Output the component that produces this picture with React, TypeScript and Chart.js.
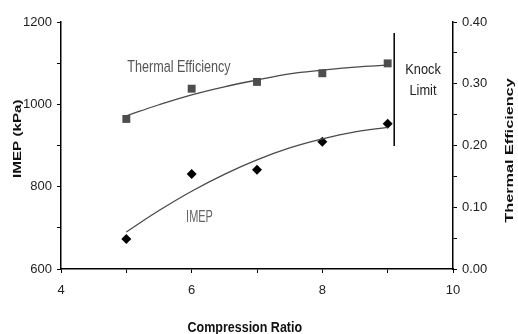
import React, { useEffect, useRef } from 'react';
import { Chart, registerables } from 'chart.js';

Chart.register(...registerables);

// ---- data ----
const compressionRatio = [5, 6, 7, 8, 9];
const imepValues = [673, 831, 841, 909, 953];
const thermalEfficiency = [0.243, 0.292, 0.303, 0.317, 0.333];
const trendX = [5, 5.5, 6, 6.5, 7, 7.5, 8, 8.5, 9];
const imepTrend = [690, 742, 789, 830, 865, 894, 916, 933, 944];
const thermalTrend = [0.248, 0.266, 0.282, 0.295, 0.306, 0.316, 0.322, 0.327, 0.33];
const knockLimitX = [9.1, 9.1];
const knockLimitY = [1173, 899];
const xTickLabels = [4, 6, 8, 10];
const leftTickLabels = [600, 800, 1000, 1200];
const rightTickLabels = [0, 0.1, 0.2, 0.3, 0.4];

const FAMILY = "'Liberation Sans', Arial, Helvetica, sans-serif";

function putText(
  ctx: CanvasRenderingContext2D,
  text: string,
  x: number,
  y: number,
  size: number,
  weight: string,
  color: string,
  sx: number,
  sy: number,
  rot = 0,
  align: CanvasTextAlign = 'center'
) {
  ctx.save();
  ctx.translate(x, y);
  if (rot) ctx.rotate(rot);
  ctx.scale(sx, sy);
  ctx.font = `${weight} ${size}px ${FAMILY}`;
  ctx.fillStyle = color;
  ctx.textAlign = align;
  ctx.textBaseline = 'alphabetic';
  ctx.fillText(text, 0, 0);
  ctx.restore();
}

const textPlugin = {
  id: 'textLabels',
  afterDraw(chart: any) {
    const ctx: CanvasRenderingContext2D = chart.ctx;
    const xs = chart.scales.x;
    const ys = chart.scales.y;
    // axis titles
    putText(ctx, 'IMEP (kPa)', 20.7, 138.7, 11.7, 'bold', '#111', 1.3, 1, -Math.PI / 2);
    putText(ctx, 'Thermal Efficiency', 513.3, 150.5, 11.6, 'bold', '#111', 1.4, 1, -Math.PI / 2);
    putText(ctx, 'Compression Ratio', 244.8, 331.5, 12.5, 'bold', '#111', 1, 1.2);
    // in-plot labels (anchored in data coordinates)
    putText(ctx, 'Thermal Efficiency', xs.getPixelForValue(5.805), ys.getPixelForValue(1077.8), 12.6, 'normal', '#555', 1, 1.29);
    putText(ctx, 'IMEP', xs.getPixelForValue(6.12), ys.getPixelForValue(714.9), 12.6, 'normal', '#666', 0.87, 1.29);
    putText(ctx, 'Knock', xs.getPixelForValue(9.541), ys.getPixelForValue(1073.7), 12.8, 'normal', '#222', 1, 1.2);
    putText(ctx, 'Limit', xs.getPixelForValue(9.541), ys.getPixelForValue(1022.7), 12.8, 'normal', '#222', 1, 1.2);
  },
};

export default function App() {
  const canvasRef = useRef<HTMLCanvasElement | null>(null);

  useEffect(() => {
    const canvas = canvasRef.current;
    if (!canvas) return;
    const tickFont = { family: FAMILY, size: 13 };
    const chart = new Chart(canvas, {
      type: 'line',
      data: {
        datasets: [
          {
            label: 'Thermal trend',
            data: trendX.map((x, i) => ({ x, y: thermalTrend[i] })),
            yAxisID: 'y1',
            borderColor: '#4a4a4a',
            borderWidth: 1.3,
            pointRadius: 0,
            tension: 0.4,
            fill: false,
          },
          {
            label: 'IMEP trend',
            data: trendX.map((x, i) => ({ x, y: imepTrend[i] })),
            yAxisID: 'y',
            borderColor: '#4a4a4a',
            borderWidth: 1.3,
            pointRadius: 0,
            tension: 0.4,
            fill: false,
          },
          {
            label: 'Thermal Efficiency',
            data: compressionRatio.map((x, i) => ({ x, y: thermalEfficiency[i] })),
            yAxisID: 'y1',
            showLine: false,
            pointStyle: 'rect',
            pointRadius: 5.6,
            pointBackgroundColor: '#4d4d4d',
            pointBorderColor: '#4d4d4d',
            pointBorderWidth: 0,
          },
          {
            label: 'IMEP',
            data: compressionRatio.map((x, i) => ({ x, y: imepValues[i] })),
            yAxisID: 'y',
            showLine: false,
            pointStyle: 'rectRot',
            pointRadius: 5,
            pointBackgroundColor: '#000',
            pointBorderColor: '#000',
            pointBorderWidth: 0,
          },
          {
            label: 'Knock Limit',
            data: knockLimitX.map((x, i) => ({ x, y: knockLimitY[i] })),
            yAxisID: 'y',
            borderColor: '#000',
            borderWidth: 1.5,
            pointRadius: 0,
            fill: false,
          },
        ],
      },
      options: {
        responsive: false,
        animation: false,
        devicePixelRatio: 1,
        layout: { padding: { top: 22, left: 0, right: 0, bottom: 0 } },
        plugins: { legend: { display: false }, tooltip: { enabled: false } },
        scales: {
          x: {
            type: 'linear',
            min: 4,
            max: 10,
            offset: false,
            ticks: {
              stepSize: 1,
              autoSkip: false,
              maxRotation: 0,
              padding: 10,
              color: '#222',
              font: tickFont,
              callback: (v: any) => (xTickLabels.includes(Number(v)) ? String(v) : ''),
            },
            grid: { display: true, drawOnChartArea: false, drawTicks: true, tickLength: 4, tickColor: '#000', tickWidth: 1 },
            border: { display: true, color: '#000', width: 1.5 },
            afterFit: (s: any) => {
              s.height = 65;
            },
          },
          y: {
            type: 'linear',
            position: 'left',
            min: 600,
            max: 1200,
            ticks: {
              stepSize: 100,
              autoSkip: false,
              padding: 5,
              color: '#222',
              font: tickFont,
              callback: (v: any) => (leftTickLabels.includes(Number(v)) ? String(v) : ''),
            },
            grid: { display: true, drawOnChartArea: false, drawTicks: true, tickLength: 4, tickColor: '#000', tickWidth: 1 },
            border: { display: true, color: '#000', width: 1.5 },
            afterFit: (s: any) => {
              s.width = 61;
            },
          },
          y1: {
            type: 'linear',
            position: 'right',
            min: 0,
            max: 0.4,
            ticks: {
              stepSize: 0.05,
              autoSkip: false,
              padding: 5,
              color: '#222',
              font: tickFont,
              callback: (v: any) => {
                const n = Number(v);
                const hit = rightTickLabels.find((t) => Math.abs(t - n) < 1e-6);
                return hit !== undefined ? hit.toFixed(2) : '';
              },
            },
            grid: { display: true, drawOnChartArea: false, drawTicks: true, tickLength: 4, tickColor: '#000', tickWidth: 1 },
            border: { display: true, color: '#000', width: 1.5 },
            afterFit: (s: any) => {
              s.width = 65;
            },
          },
        },
      },
      plugins: [textPlugin],
    } as any);
    return () => chart.destroy();
  }, []);

  return (
    <div style={{ position: 'absolute', left: 0, top: 0, width: 518, height: 334, background: '#fff' }}>
      <canvas ref={canvasRef} width={518} height={334} style={{ display: 'block', width: 518, height: 334 }} />
    </div>
  );
}
